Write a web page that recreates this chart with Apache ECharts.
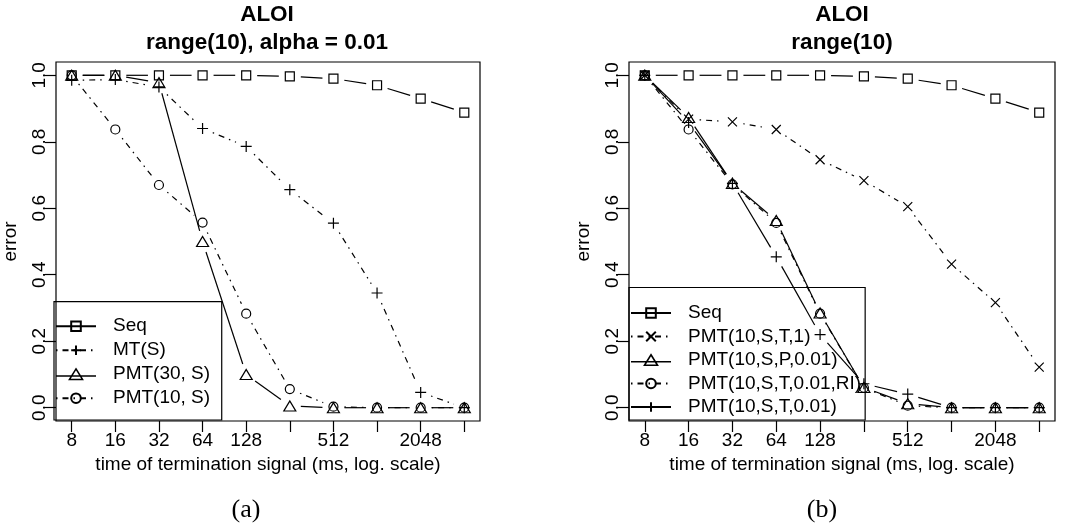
<!DOCTYPE html>
<html>
<head>
<meta charset="utf-8">
<script src="https://cdn.jsdelivr.net/npm/echarts@6/dist/echarts.min.js"></script>
<style>
html,body{margin:0;padding:0;background:#fff;}
#chart{width:1068px;height:529px;}
</style>
</head>
<body>
<div id="chart"></div>
<script>
// ---------------- data ----------------
const times = [8, 16, 32, 64, 128, 256, 512, 1024, 2048, 4096];
const xTickTimes = [8, 16, 32, 64, 128, 256, 512, 1024, 2048, 4096];
const xLabelTimes = [8, 16, 32, 64, 128, 512, 2048];
const yTickValues = [0, 0.2, 0.4, 0.6, 0.8, 1.0];

// panel (a): ALOI range(10), alpha = 0.01
const seqA     = [1.0, 1.0, 1.0, 1.0, 1.0, 0.997, 0.99, 0.97, 0.93, 0.888];
const mtS      = [0.985, 0.987, 0.965, 0.84, 0.786, 0.656, 0.555, 0.345, 0.046, 0.0];
const pmt30S   = [1.0, 1.0, 0.978, 0.50, 0.10, 0.005, 0.0, 0.0, 0.0, 0.0];
const pmt10S   = [1.0, 0.837, 0.670, 0.557, 0.283, 0.056, 0.003, 0.0, 0.0, 0.0];

// panel (b): ALOI range(10)
const seqB     = [1.0, 1.0, 1.0, 1.0, 1.0, 0.997, 0.99, 0.97, 0.93, 0.888];
const pmtST1   = [1.0, 0.868, 0.86, 0.837, 0.746, 0.683, 0.605, 0.432, 0.316, 0.122];
const pmtSP    = [1.0, 0.873, 0.675, 0.563, 0.285, 0.061, 0.012, 0.0, 0.0, 0.0];
const pmtSTRI  = [1.0, 0.837, 0.672, 0.556, 0.283, 0.06, 0.006, 0.0, 0.0, 0.0];
const pmtST    = [1.0, 0.858, 0.675, 0.454, 0.22, 0.072, 0.041, 0.0, 0.0, 0.0];

const titleA = 'ALOI\nrange(10), alpha = 0.01';
const titleB = 'ALOI\nrange(10)';
const xName = 'time of termination signal (ms, log. scale)';
const yName = 'error';

// ---------------- styling ----------------
const FONT = '"Liberation Sans", Arial, Helvetica, sans-serif';
const SOLID = [];
const DOTDASH = [1.5, 5, 6, 5];
const GAP = 11;
const LW = 1.2;

const SYM = {
  square: {symbol: 'rect', size: 9},
  plus: {symbol: 'path://M0,5L10,5M5,0L5,10', size: 11},
  tri: {symbol: 'triangle', size: [12, 10]},
  circ: {symbol: 'circle', size: 9},
  cross: {symbol: 'path://M0,0L10,10M0,10L10,0', size: 9}
};
// legend icon (line + triangle) used for triangle entries
const TRI_LEGEND_ICON = 'path://M0,7L40,7M20,0L26.5,10.5L13.5,10.5Z';

const panels = [
  {
    left: 54, title: titleA, caption: '(a)', capX: 246,
    legendTop: 301.7, legendPad: [15, 11.6, 12.3, 1], legendGap: 5,
    series: [
      {name: 'Seq', values: seqA, sym: 'square', dash: SOLID},
      {name: 'MT(S)', values: mtS, sym: 'plus', dash: DOTDASH},
      {name: 'PMT(30, S)', values: pmt30S, sym: 'tri', dash: SOLID},
      {name: 'PMT(10, S)', values: pmt10S, sym: 'circ', dash: DOTDASH}
    ]
  },
  {
    left: 629, title: titleB, caption: '(b)', capX: 822,
    legendTop: 287.5, legendPad: [16, 4, 3.5, 1], legendGap: 4.5,
    series: [
      {name: 'Seq ', values: seqB, sym: 'square', dash: SOLID},
      {name: 'PMT(10,S,T,1)', values: pmtST1, sym: 'cross', dash: DOTDASH},
      {name: 'PMT(10,S,P,0.01)', values: pmtSP, sym: 'tri', dash: SOLID},
      {name: 'PMT(10,S,T,0.01,RI)', values: pmtSTRI, sym: 'circ', dash: DOTDASH},
      {name: 'PMT(10,S,T,0.01)', values: pmtST, sym: 'plus', dash: SOLID}
    ]
  }
];

const PLOT_TOP = 62, PLOT_W = 426, PLOT_H = 359;
const XMIN = 3 - 0.36, XMAX = 12 + 0.36;
const YMIN = -0.04, YMAX = 1.04;

function segRenderer(dash) {
  return function (params, api) {
    const p1 = api.coord([api.value(0), api.value(1)]);
    const p2 = api.coord([api.value(2), api.value(3)]);
    const dx = p2[0] - p1[0], dy = p2[1] - p1[1];
    const d = Math.sqrt(dx * dx + dy * dy);
    if (d <= 2 * GAP) return null;
    const ux = dx / d, uy = dy / d;
    return {
      type: 'line',
      silent: true,
      shape: {x1: p1[0] + ux * GAP, y1: p1[1] + uy * GAP, x2: p2[0] - ux * GAP, y2: p2[1] - uy * GAP},
      style: {stroke: '#000', lineWidth: LW, lineDash: dash.length ? dash : null, fill: null}
    };
  };
}

const grid = [], xAxis = [], yAxis = [], title = [], legend = [], series = [];

panels.forEach((p, gi) => {
  grid.push({left: p.left, top: PLOT_TOP, width: PLOT_W, height: PLOT_H, show: true,
    borderColor: '#000', borderWidth: LW, backgroundColor: 'transparent', containLabel: false});
  xAxis.push({
    type: 'value', gridIndex: gi, min: XMIN, max: XMAX, position: 'bottom',
    axisLine: {show: false, onZero: false}, splitLine: {show: false},
    axisTick: {show: true, inside: false, length: 11, customValues: xTickTimes.map(t => Math.log2(t)),
      lineStyle: {color: '#000', width: LW}},
    axisLabel: {show: true, customValues: xLabelTimes.map(t => Math.log2(t)),
      formatter: v => String(Math.round(Math.pow(2, v))),
      fontSize: 19, fontFamily: FONT, color: '#000', margin: 10},
    name: xName, nameLocation: 'middle', nameGap: 31.5,
    nameTextStyle: {fontSize: 19, fontFamily: FONT, color: '#000'}
  });
  yAxis.push({
    type: 'value', gridIndex: gi, min: YMIN, max: YMAX, position: 'left',
    axisLine: {show: false, onZero: false}, splitLine: {show: false},
    axisTick: {show: true, inside: false, length: 11, customValues: yTickValues,
      lineStyle: {color: '#000', width: LW}},
    axisLabel: {show: true, customValues: yTickValues, rotate: 90,
      formatter: v => v.toFixed(1),
      fontSize: 19, fontFamily: FONT, color: '#000', margin: 7},
    name: yName, nameLocation: 'middle', nameGap: 36, nameRotate: 90,
    nameTextStyle: {fontSize: 19, fontFamily: FONT, color: '#000'}
  });
  title.push({
    text: p.title, left: p.left + PLOT_W / 2, top: 1, textAlign: 'center', padding: 0,
    textStyle: {fontSize: 22.5, fontWeight: 'bold', fontFamily: FONT, color: '#000', lineHeight: 28}
  });
  title.push({
    text: p.caption, left: p.capX, top: 495, textAlign: 'center', padding: 0,
    textStyle: {fontSize: 26, fontWeight: 'normal', fontFamily: '"Liberation Serif", "DejaVu Serif", serif', color: '#000', lineHeight: 30}
  });
  legend.push({
    left: p.left, top: p.legendTop, orient: 'vertical', align: 'left',
    data: p.series.map(s => s.sym === 'tri'
      ? {name: s.name, icon: TRI_LEGEND_ICON,
         itemStyle: {color: 'rgba(0,0,0,0)', borderColor: '#000', borderWidth: 1.6, opacity: 1}}
      : {name: s.name}),
    itemWidth: 40, itemHeight: 12, itemGap: p.legendGap,
    padding: p.legendPad, borderColor: '#000', borderWidth: LW, borderRadius: 0,
    backgroundColor: 'transparent', selectedMode: false,
    textStyle: {fontSize: 19, fontFamily: FONT, color: '#000', lineHeight: 19, padding: [0, 0, 0, 12]},
    lineStyle: {opacity: 1}
  });
  p.series.forEach(s => {
    const pts = times.map((t, i) => [Math.log2(t), s.values[i]]);
    const segs = [];
    for (let i = 0; i + 1 < pts.length; i++) segs.push([pts[i][0], pts[i][1], pts[i + 1][0], pts[i + 1][1]]);
    series.push({
      type: 'custom', name: '_seg_' + gi + '_' + s.name, xAxisIndex: gi, yAxisIndex: gi,
      renderItem: segRenderer(s.dash), data: segs, encode: {x: [0, 2], y: [1, 3]},
      silent: true, z: 2, clip: false
    });
    const sy = SYM[s.sym];
    series.push({
      type: 'line', name: s.name, xAxisIndex: gi, yAxisIndex: gi, data: pts,
      symbol: sy.symbol, symbolSize: sy.size, showSymbol: true, showAllSymbol: true,
      lineStyle: {color: '#000', width: LW, type: s.dash.length ? s.dash : 'solid', opacity: 0},
      itemStyle: {color: 'rgba(0,0,0,0)', borderColor: '#000', borderWidth: LW},
      emphasis: {disabled: true}, silent: true, z: 3
    });
  });
});

const chart = echarts.init(document.getElementById('chart'), null, {renderer: 'canvas'});
chart.setOption({
  animation: false,
  backgroundColor: '#fff',
  title, grid, xAxis, yAxis, legend, series
});
</script>
</body>
</html>
